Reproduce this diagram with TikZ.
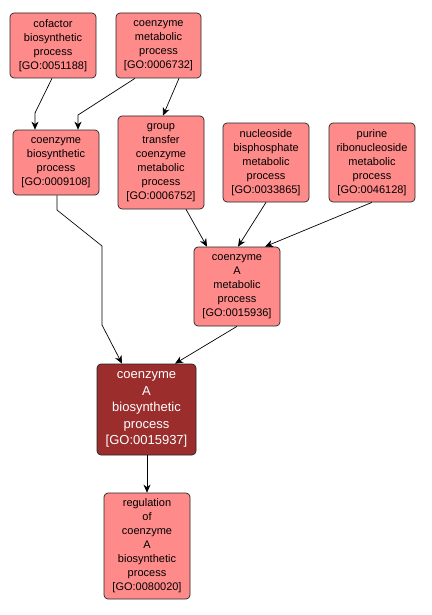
\documentclass[tikz,border=0pt]{standalone}
\usepackage{fontspec}
\setmainfont{Liberation Sans}
\usetikzlibrary{arrows.meta}
\definecolor{lightred}{RGB}{255,138,138}
\definecolor{darkred}{RGB}{155,45,45}
\begin{document}
\begin{tikzpicture}[x=1pt,y=-1pt,
  gobox/.style={draw=black!85,line width=0.7pt,rounded corners=4pt,fill=lightred,
    align=center,inner sep=0pt,font=\fontsize{11}{14}\selectfont},
  godark/.style={gobox,fill=darkred,text=white,font=\fontsize{13}{16.5}\selectfont},
  edge/.style={draw=black,line width=0.7pt,-{Stealth[length=8pt,width=7pt,inset=2.5pt]}}]
\useasboundingbox (0,0) rectangle (431,615);
\fill[white] (0,0) rectangle (431,615);
\node[gobox,minimum width=86pt,minimum height=65pt] (cof) at (53,45.5) {cofactor\\biosynthetic\\process\\{[GO:0051188]}};
\node[gobox,minimum width=85pt,minimum height=65pt] (cmp) at (158.5,45.5) {coenzyme\\metabolic\\process\\{[GO:0006732]}};
\node[gobox,minimum width=86pt,minimum height=65pt] (cbp) at (56,162.5) {coenzyme\\biosynthetic\\process\\{[GO:0009108]}};
\node[gobox,minimum width=86pt,minimum height=93pt] (gtc) at (161,162.5) {group\\transfer\\coenzyme\\metabolic\\process\\{[GO:0006752]}};
\node[gobox,minimum width=86pt,minimum height=79pt] (nbm) at (266,162.5) {nucleoside\\bisphosphate\\metabolic\\process\\{[GO:0033865]}};
\node[gobox,minimum width=86pt,minimum height=79pt] (prm) at (372,162.5) {purine\\ribonucleoside\\metabolic\\process\\{[GO:0046128]}};
\node[gobox,minimum width=86pt,minimum height=79pt] (cam) at (237,286.5) {coenzyme\\A\\metabolic\\process\\{[GO:0015936]}};
\node[godark,minimum width=99pt,minimum height=91pt] (cab) at (146.5,409.5) {coenzyme\\A\\biosynthetic\\process\\{[GO:0015937]}};
\node[gobox,minimum width=86pt,minimum height=106pt] (reg) at (147,546) {regulation\\of\\coenzyme\\A\\biosynthetic\\process\\{[GO:0080020]}};
\coordinate (c1) at (35,113);
\coordinate (c2) at (78,115);
\coordinate (c3) at (57,210);
\coordinate (c4) at (102,246);
\coordinate (c5) at (102,325);
\draw[edge] (cof.south -| 52,0) -- (c1) -- (c1 |- cbp.north);
\draw[edge] (cmp.south -| 135,0) -- (c2) -- (c2 |- cbp.north);
\draw[edge] (cmp.south -| 179,0) -- (gtc.north -| 163,0);
\draw[edge] (cbp.south -| 57,0) -- (c3) -- (c4) -- (c5) -- (cab.north -| 122,0);
\draw[edge] (gtc.south -| 186,0) -- (cam.north -| 207,0);
\draw[edge] (nbm.south) -- (cam.north -| 238,0);
\draw[edge] (prm.south) -- (cam.north -| 265,0);
\draw[edge] (cam.south) -- (cab.north -| 175,0);
\draw[edge] (cab.south -| 147,0) -- (reg.north);
\end{tikzpicture}
\end{document}
